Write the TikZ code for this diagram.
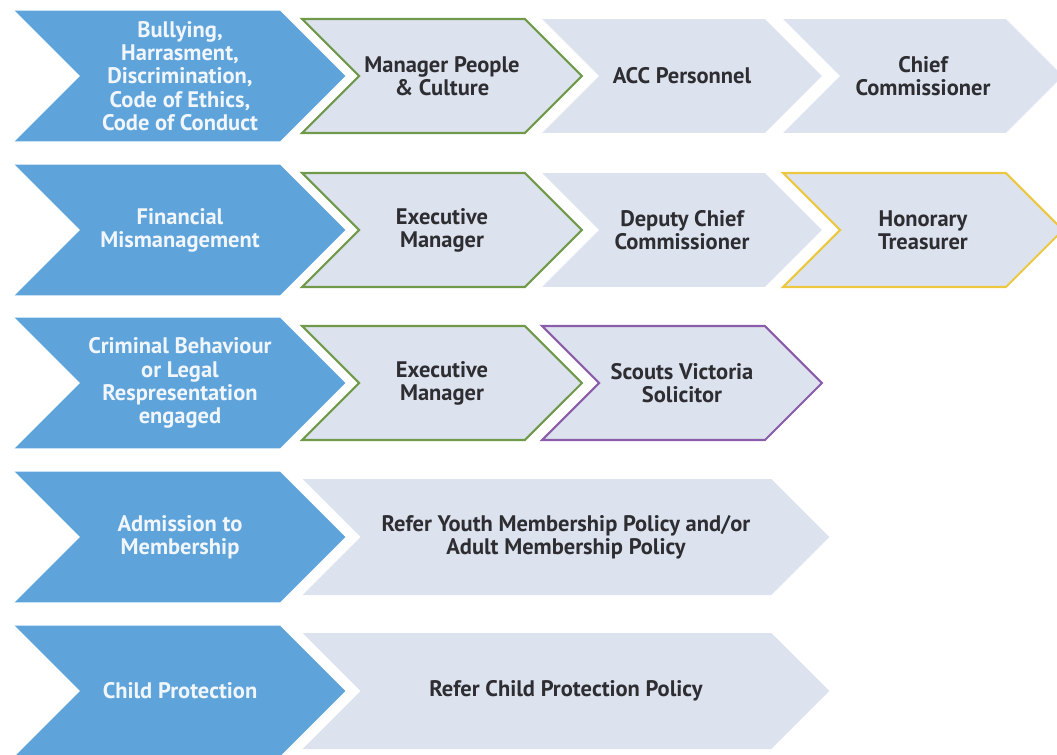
\documentclass[tikz,border=0pt]{standalone}
\usepackage{fontspec}
\setmainfont{PT Sans}
\usetikzlibrary{shapes.symbols}

\definecolor{issueblue}{RGB}{94,163,218}
\definecolor{stepgray}{RGB}{221,227,238}
\definecolor{olivegreen}{RGB}{112,154,74}
\definecolor{goldline}{RGB}{236,200,64}
\definecolor{violetline}{RGB}{138,92,170}
\definecolor{textdark}{RGB}{45,45,50}
\definecolor{textlight}{RGB}{240,246,252}

\begin{document}
\begin{tikzpicture}[x=0.02cm,y=-0.02cm]
  \tikzset{chevron/.style={signal,signal from=west,signal to=east,inner sep=0pt,align=center,font=\bfseries\fontsize{12.8}{13.2}\selectfont},
    issue/.style={chevron,fill=issueblue,text=textlight,minimum width=6.62cm,minimum height=2.62cm},
    contact/.style={chevron,fill=stepgray,text=textdark,minimum width=5.6cm,minimum height=2.28cm,draw=#1,line width=1.2pt},
    contact/.default=none,
    policy/.style={chevron,fill=stepgray,text=textdark,minimum width=10.54cm,minimum height=2.32cm}}
  \useasboundingbox (0,0) rectangle (1057,754);

  % bullying row
  \node [issue] (bully) at (180,76) {Bullying,\\Harrasment,\\Discrimination,\\Code of Ethics,\\Code of Conduct};
  \node [contact=olivegreen] (people) at (442,76) {Manager People\\\& Culture};
  \node [contact] (acc) at (682,76) {ACC Personnel};
  \node [contact] (chief) at (923,76) {Chief\\Commissioner};

  % financial row
  \node [issue] (finance) at (180,230) {Financial\\Mismanagement};
  \node [contact=olivegreen] (execfin) at (442,230) {Executive\\Manager};
  \node [contact] (deputy) at (682,230) {Deputy Chief\\Commissioner};
  \node [contact=goldline] (treasurer) at (923,230) {Honorary\\Treasurer};

  % criminal row
  \node [issue] (criminal) at (180,383) {Criminal Behaviour\\or Legal\\Respresentation\\engaged};
  \node [contact=olivegreen] (execlegal) at (442,383) {Executive\\Manager};
  \node [contact=violetline] (solicitor) at (682,383) {Scouts Victoria\\Solicitor};

  % membership and child protection
  \node [issue] (admission) at (180,537) {Admission to\\Membership};
  \node [policy] (membership) at (566,537) {Refer Youth Membership Policy and/or\\Adult Membership Policy};
  \node [issue] (child) at (180,691) {Child Protection};
  \node [policy] (childpolicy) at (566,691) {Refer Child Protection Policy};
\end{tikzpicture}
\end{document}
